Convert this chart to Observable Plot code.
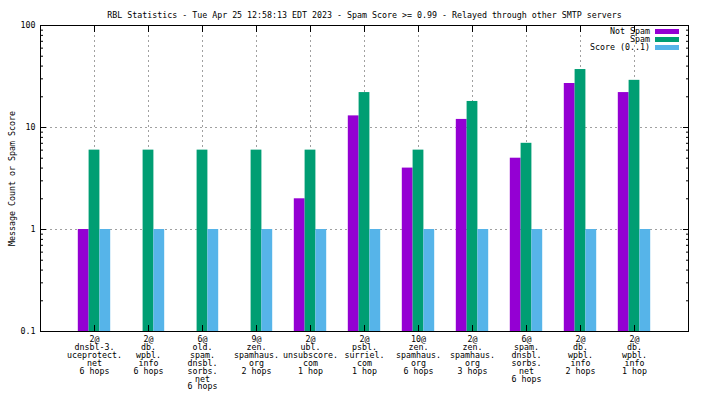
<!DOCTYPE html>
<html>
<head>
<meta charset="utf-8">
<script src="https://cdn.jsdelivr.net/npm/d3@7"></script>
<script src="https://cdn.jsdelivr.net/npm/@observablehq/plot@0.6"></script>
<style>
  html, body { margin: 0; padding: 0; background: #fff; }
  #wrap { position: relative; width: 704px; height: 396px; font-family: "DejaVu Sans Mono", monospace; font-size: 8.3px; }
  .lg { position: absolute; right: 25px; height: 8px; display: flex; align-items: center; white-space: pre; line-height: 8px; }
  .sw { width: 24px; height: 5px; margin-left: 5px; }
</style>
</head>
<body>
<div id="wrap"></div>
<script>
const title = "RBL Statistics - Tue Apr 25 12:58:13 EDT 2023 - Spam Score >= 0.99 - Relayed through other SMTP servers";
const yLabel = "Message Count or Spam Score";
const categories = [
  "2@\ndnsbl-3.\nuceprotect.\nnet\n6 hops",
  "2@\ndb.\nwpbl.\ninfo\n6 hops",
  "6@\nold.\nspam.\ndnsbl.\nsorbs.\nnet\n6 hops",
  "9@\nzen.\nspamhaus.\norg\n2 hops",
  "2@\nubl.\nunsubscore.\ncom\n1 hop",
  "2@\npsbl.\nsurriel.\ncom\n1 hop",
  "10@\nzen.\nspamhaus.\norg\n6 hops",
  "2@\nzen.\nspamhaus.\norg\n3 hops",
  "6@\nspam.\ndnsbl.\nsorbs.\nnet\n6 hops",
  "2@\ndb.\nwpbl.\ninfo\n2 hops",
  "2@\ndb.\nwpbl.\ninfo\n1 hop"
];
const notSpam = [1, 0, 0, 0, 2, 13, 4, 12, 5, 27, 22];
const spam    = [6, 6, 6, 6, 6, 22, 6, 18, 7, 37, 29];
const score   = [1, 1, 1, 1, 1, 1, 1, 1, 1, 1, 1];
const seriesNames = ["Not Spam", "Spam", "Score (0..1)"];
const seriesColors = ["#9400d3", "#009e73", "#56b4e9"];
const yTicks = [0.1, 1, 10, 100];
const yTickLabels = ["0.1", "1", "10", "100"];

const seriesValues = [notSpam, spam, score];
const rows = [];
seriesValues.forEach((vals, s) => vals.forEach((v, i) => {
  if (v > 0) rows.push({i: i + 1, s, name: seriesNames[s], v});
}));
const xIdx = d3.range(1, categories.length + 1);
const minor = [];
[0.1, 1, 10].forEach(b => { for (let k = 2; k <= 9; k++) minor.push(+(b * k).toPrecision(3)); });

const barW = 0.2;
const plot = Plot.plot({
  width: 704,
  height: 396,
  marginLeft: 40,
  marginRight: 16,
  marginTop: 25,
  marginBottom: 65,
  style: {fontFamily: "'DejaVu Sans Mono', monospace", fontSize: "8.3px", color: "#000", background: "#fff"},
  x: {type: "linear", domain: [0, categories.length + 1], axis: null},
  y: {type: "log", domain: [0.1, 100], axis: null},
  color: {domain: seriesNames, range: seriesColors},
  marks: [
    Plot.gridY([1, 10], {stroke: "#a0a0a0", strokeOpacity: 1, strokeDasharray: "2,3"}),
    Plot.gridX(xIdx, {stroke: "#a0a0a0", strokeOpacity: 1, strokeDasharray: "2,3"}),
    Plot.rect(rows, {
      x1: d => d.i + (d.s - 1.5) * barW,
      x2: d => d.i + (d.s - 0.5) * barW,
      y1: 0.1, y2: "v", fill: "name"
    }),
    // inward tick marks (left, right, top, bottom)
    Plot.axisY(yTicks, {anchor: "left", tickSize: -6, tickFormat: () => "", label: null}),
    Plot.axisY(yTicks, {anchor: "right", tickSize: -6, tickFormat: () => "", label: null}),
    Plot.axisY(minor, {anchor: "left", tickSize: -3, tickFormat: () => "", label: null}),
    Plot.axisY(minor, {anchor: "right", tickSize: -3, tickFormat: () => "", label: null}),
    Plot.axisX(xIdx, {anchor: "bottom", tickSize: -6, tickFormat: () => "", label: null}),
    Plot.axisX(xIdx, {anchor: "top", tickSize: -6, tickFormat: () => "", label: null}),
    // tick labels
    Plot.axisY(yTicks, {anchor: "left", tickSize: 0, tickPadding: 5,
      tickFormat: d => yTickLabels[yTicks.indexOf(d)], label: null}),
    Plot.axisX(xIdx, {anchor: "bottom", tickSize: 0, tickPadding: 5,
      tickFormat: i => categories[i - 1], lineHeight: 0.95, label: null}),
    Plot.text([yLabel], {frameAnchor: "left", dx: -28, rotate: -90, textAnchor: "middle", text: d => d}),
    Plot.frame({stroke: "#000", strokeWidth: 1}),
    Plot.text([title], {frameAnchor: "top", dy: -13, text: d => d})
  ]
});
const wrap = document.getElementById("wrap");
wrap.appendChild(plot);
seriesNames.forEach((n, k) => {
  const row = document.createElement("div");
  row.className = "lg";
  row.style.top = (27 + 8 * k) + "px";
  const t = document.createElement("span");
  t.textContent = n;
  const sw = document.createElement("span");
  sw.className = "sw";
  sw.style.background = seriesColors[k];
  row.appendChild(t); row.appendChild(sw);
  wrap.appendChild(row);
});
</script>
</body>
</html>
